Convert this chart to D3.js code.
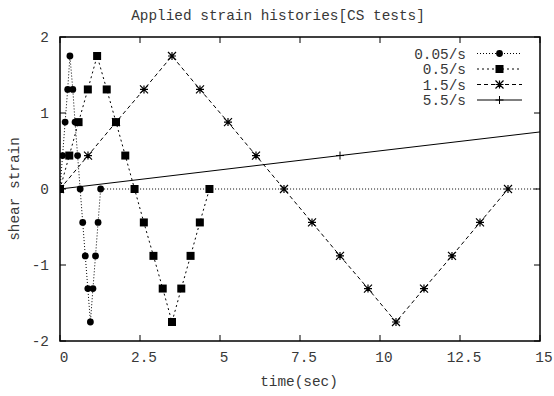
<!DOCTYPE html>
<html>
<head>
<meta charset="utf-8">
<script src="https://cdn.jsdelivr.net/npm/d3@7/dist/d3.min.js"></script>
<style>
  html, body { margin: 0; padding: 0; background: #fff; }
  svg { display: block; }
  text { font-family: "Liberation Mono", "DejaVu Sans Mono", monospace; fill: #383838; }
</style>
</head>
<body>
<svg id="chart" width="554" height="396"></svg>
<script>
// Strain histories for each shear rate
const seriesNames = ["0.05/s", "0.5/s", "1.5/s", "5.5/s"];

const strainCycle = [0, 0.44, 0.88, 1.31, 1.75, 1.31, 0.88, 0.44, 0, -0.44, -0.88, -1.31, -1.75, -1.31, -0.88, -0.44, 0];

const t005 = [0, 0.08, 0.16, 0.24, 0.31, 0.40, 0.47, 0.55, 0.63, 0.71, 0.79, 0.87, 0.95, 1.03, 1.11, 1.19, 1.27, 20];
const s005 = strainCycle.concat([0]);

const t05 = [0, 0.29, 0.58, 0.87, 1.16, 1.46, 1.75, 2.04, 2.33, 2.62, 2.92, 3.21, 3.50, 3.79, 4.08, 4.37, 4.67];
const s05 = strainCycle.slice();

const t15 = [0, 0.875, 1.75, 2.625, 3.5, 4.375, 5.25, 6.125, 7.0, 7.875, 8.75, 9.625, 10.5, 11.375, 12.25, 13.125, 14.0];
const s15 = strainCycle.slice();

const t55 = [0, 8.75, 17.5];
const s55 = [0, 0.44, 0.875];

const xTicks = [0, 2.5, 5, 7.5, 10, 12.5, 15];
const yTicks = [-2, -1, 0, 1, 2];

const titleText = "Applied strain histories[CS tests]";
const xLabel = "time(sec)";
const yLabel = "shear strain";

// Layout
const svg = d3.select("#chart");
const L = 60, R = 540, T = 37, B = 341;
const x = d3.scaleLinear().domain([0, 15]).range([L, R]);
const y = d3.scaleLinear().domain([-2, 2]).range([B, T]);
const fs = 14.4;

svg.append("defs").append("clipPath").attr("id", "plotClip")
  .append("rect").attr("x", L).attr("y", T).attr("width", R - L).attr("height", B - T);

// Tick marks on all four sides, pointing inward
const tickLen = 6;
const axes = svg.append("g").attr("stroke", "#000").attr("stroke-width", 1);
xTicks.forEach(v => {
  axes.append("line").attr("x1", x(v)).attr("x2", x(v)).attr("y1", B).attr("y2", B - tickLen);
  axes.append("line").attr("x1", x(v)).attr("x2", x(v)).attr("y1", T).attr("y2", T + tickLen);
});
yTicks.forEach(v => {
  axes.append("line").attr("x1", L).attr("x2", L + tickLen).attr("y1", y(v)).attr("y2", y(v));
  axes.append("line").attr("x1", R).attr("x2", R - tickLen).attr("y1", y(v)).attr("y2", y(v));
});

// Tick labels
svg.append("g").selectAll("text").data(xTicks).join("text")
  .attr("x", d => x(d) + 4).attr("y", 362)
  .attr("text-anchor", "middle").attr("font-size", fs)
  .text(d => String(d));
svg.append("g").selectAll("text").data(yTicks).join("text")
  .attr("x", 49).attr("y", d => y(d) + 5)
  .attr("text-anchor", "end").attr("font-size", fs)
  .text(d => String(d));

// Titles
svg.append("text").attr("x", 278).attr("y", 20).attr("text-anchor", "middle")
  .attr("font-size", fs).text(titleText);
svg.append("text").attr("x", 299).attr("y", 386).attr("text-anchor", "middle")
  .attr("font-size", fs).text(xLabel);
svg.append("text").attr("transform", "translate(19,189) rotate(-90)")
  .attr("text-anchor", "middle").attr("font-size", fs).text(yLabel);

// Marker shapes
function drawMarker(g, kind, cx, cy) {
  if (kind === "circle") {
    g.append("circle").attr("cx", cx).attr("cy", cy).attr("r", 3.4).attr("fill", "#000");
  } else if (kind === "square") {
    g.append("rect").attr("x", cx - 4).attr("y", cy - 4).attr("width", 8).attr("height", 8).attr("fill", "#000");
  } else if (kind === "star") {
    const s = 4;
    g.append("path").attr("d",
      `M${cx - s},${cy}H${cx + s}M${cx},${cy - s}V${cy + s}` +
      `M${cx - s},${cy - s}L${cx + s},${cy + s}M${cx - s},${cy + s}L${cx + s},${cy - s}`)
      .attr("stroke", "#000").attr("stroke-width", 1.2).attr("fill", "none");
  } else if (kind === "plus") {
    const s = 4;
    g.append("path").attr("d", `M${cx - s},${cy}H${cx + s}M${cx},${cy - s}V${cy + s}`)
      .attr("stroke", "#000").attr("stroke-width", 1).attr("fill", "none");
  }
}

const series = [
  { name: seriesNames[0], t: t005, s: s005, marker: "circle", dash: "1,2" },
  { name: seriesNames[1], t: t05, s: s05, marker: "square", dash: "2,3" },
  { name: seriesNames[2], t: t15, s: s15, marker: "star", dash: "4,3" },
  { name: seriesNames[3], t: t55, s: s55, marker: "plus", dash: null }
];

const line = d3.line().x(d => x(d[0])).y(d => y(d[1]));
const plot = svg.append("g").attr("clip-path", "url(#plotClip)");

series.forEach(sr => {
  const pts = sr.t.map((t, i) => [t, sr.s[i]]);
  plot.append("path").datum(pts).attr("d", line)
    .attr("fill", "none").attr("stroke", "#000").attr("stroke-width", 1)
    .attr("stroke-dasharray", sr.dash);
  const mg = plot.append("g");
  pts.filter(p => p[0] <= 15).forEach(p => drawMarker(mg, sr.marker, x(p[0]), y(p[1])));
});

// Legend
const legendRows = [53.5, 69, 84.5, 100];
series.forEach((sr, i) => {
  const ly = legendRows[i];
  svg.append("text").attr("x", 466).attr("y", ly + 5).attr("text-anchor", "end")
    .attr("font-size", fs).text(sr.name);
  svg.append("line").attr("x1", 477).attr("x2", 522).attr("y1", ly).attr("y2", ly)
    .attr("stroke", "#000").attr("stroke-width", 1).attr("stroke-dasharray", sr.dash);
  drawMarker(svg, sr.marker, 499.5, ly);
});

// Plot border
svg.append("rect").attr("x", L).attr("y", T).attr("width", R - L).attr("height", B - T)
  .attr("fill", "none").attr("stroke", "#000").attr("stroke-width", 1.5);
</script>
</body>
</html>
